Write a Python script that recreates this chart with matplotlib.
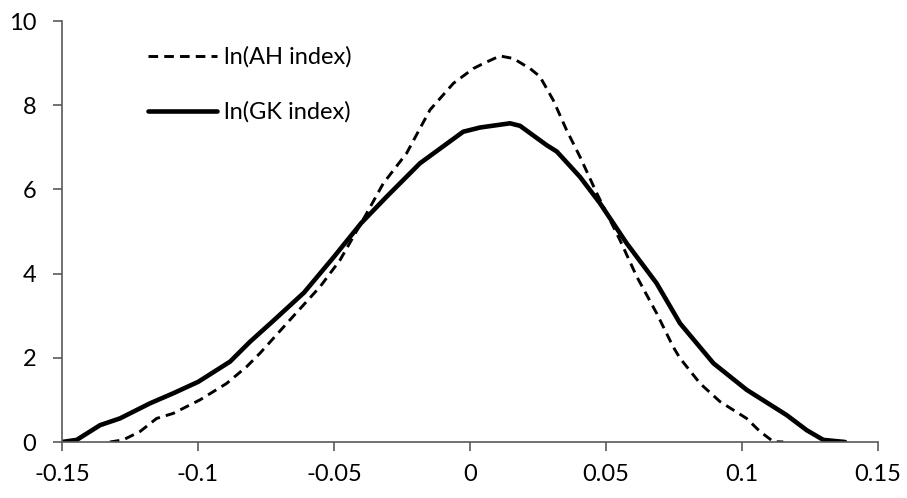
import matplotlib.pyplot as plt
import numpy as np

# kernel density curves
ah_x = [-0.1324, -0.1275, -0.1213, -0.1152, -0.1091, -0.0993, -0.0895, -0.0821, -0.0772,
        -0.0662, -0.0551, -0.0478, -0.0380, -0.0319, -0.0233, -0.0147, -0.0061, 0.0012,
        0.0049, 0.0110, 0.0159, 0.0221, 0.0257, 0.0306, 0.0355, 0.0404, 0.0466, 0.0551,
        0.0613, 0.0686, 0.0747, 0.0772, 0.0846, 0.0919, 0.1017, 0.1066, 0.1115, 0.1152]
ah_y = [0.0, 0.05, 0.25, 0.56, 0.68, 1.00, 1.39, 1.79, 2.11,
        2.90, 3.69, 4.32, 5.43, 6.14, 6.86, 7.89, 8.52, 8.87,
        8.99, 9.17, 9.11, 8.87, 8.68, 8.12, 7.41, 6.78, 5.91, 4.80,
        3.93, 3.06, 2.26, 1.99, 1.39, 0.96, 0.56, 0.25, 0.01, 0.0]

gk_x = [-0.1500, -0.1446, -0.1360, -0.1287, -0.1176, -0.1090, -0.0999, -0.0882, -0.0809,
        -0.0723, -0.0610, -0.0500, -0.0400, -0.0306, -0.0184, -0.0025, 0.0037, 0.0147,
        0.0184, 0.0282, 0.0319, 0.0404, 0.0478, 0.0576, 0.0686, 0.0772, 0.0895, 0.1017,
        0.1164, 0.1238, 0.1299, 0.1379]
gk_y = [0.0, 0.05, 0.40, 0.56, 0.92, 1.16, 1.43, 1.91, 2.38,
        2.88, 3.55, 4.40, 5.20, 5.83, 6.62, 7.37, 7.47, 7.57,
        7.51, 7.05, 6.90, 6.30, 5.67, 4.72, 3.77, 2.82, 1.87, 1.24,
        0.64, 0.28, 0.05, 0.0]

xticks = [-0.15, -0.1, -0.05, 0, 0.05, 0.1, 0.15]
xlabels = ["-0.15", "-0.1", "-0.05", "0", "0.05", "0.1", "0.15"]
yticks = [0, 2, 4, 6, 8, 10]

plt.rcParams['font.family'] = ['Lato', 'DejaVu Sans']

fig = plt.figure(figsize=(9.07, 4.98), dpi=100)
ax = fig.add_axes([62 / 907, 1 - 442 / 498, (878 - 62) / 907, (442 - 21) / 498])

ax.plot(ah_x, ah_y, color="black", lw=2.1, linestyle=(0, (3.3, 2.1)),
        dash_joinstyle="round", label="ln(AH index)")
ax.plot(gk_x, gk_y, color="black", lw=3.3, solid_capstyle="round",
        solid_joinstyle="round", label="ln(GK index)")

ax.set_xlim(-0.15, 0.15)
ax.set_ylim(0, 10)
ax.set_xticks(xticks)
ax.set_xticklabels(xlabels)
ax.set_yticks(yticks)
for s in ["top", "right"]:
    ax.spines[s].set_visible(False)
for s in ["left", "bottom"]:
    ax.spines[s].set_color("#595959")
    ax.spines[s].set_linewidth(1.2)
ax.tick_params(axis="both", direction="out", length=6.5, width=1.2, color="#595959",
               labelsize=17)
ax.tick_params(axis="x", pad=9)
ax.tick_params(axis="y", pad=12)

ax.legend(loc="upper left", bbox_to_anchor=(0.094, 0.962), frameon=False, fontsize=17,
          handlelength=2.9, handletextpad=0.3, labelspacing=1.42, borderaxespad=0)

fig.savefig("out.png", dpi=100)
